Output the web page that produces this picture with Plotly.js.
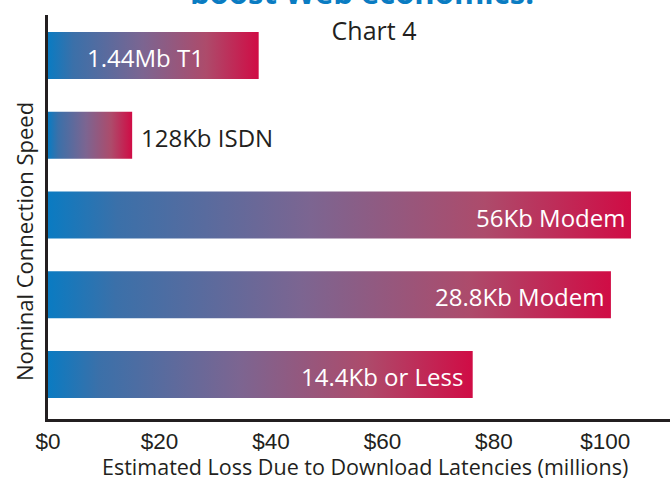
<!DOCTYPE html>
<html>
<head>
<meta charset="utf-8">
<script src="https://cdn.plot.ly/plotly-3.0.1.min.js"></script>
<style>html,body{margin:0;padding:0;background:#fff;}#chart{width:670px;height:480px;}</style>
</head>
<body>
<div id="chart"></div>
<script>
// ---- data ----
const categories = ['1.44Mb T1', '128Kb ISDN', '56Kb Modem', '28.8Kb Modem', '14.4Kb or Less'];
const losses = [37.8, 15.1, 104.6, 101.0, 76.2];           // $ millions
const tickValues = [0, 20, 40, 60, 80, 100];
const tickLabels = ['$0', '$20', '$40', '$60', '$80', '$100'];
const headline = 'boost Web economics.';
const chartTitle = 'Chart 4';
const xTitle = 'Estimated Loss Due to Download Latencies (millions)';
const yTitle = 'Nominal Connection Speed';

// ---- style ----
const ink = '#231f20';
const barHalf = 0.295;
const gradient = [[0, '#0a7bc2'], [0.12, '#3b70a9'], [0.45, '#7c6591'], [0.75, '#ad4b6b'], [1, '#d00c45']];
const labelPlacement = ['middle', 'outside', 'end', 'end', 'end'];
const labelShift = [-8, 7, -4, -4, -8];

const traces = categories.map((c, i) => ({
  type: 'scatter', mode: 'lines', name: c,
  x: [0, losses[i], losses[i], 0, 0],
  y: [i - barHalf, i - barHalf, i + barHalf, i + barHalf, i - barHalf],
  fill: 'toself',
  fillgradient: {type: 'horizontal', colorscale: gradient},
  line: {width: 0, color: 'rgba(0,0,0,0)'},
  hoverinfo: 'skip', showlegend: false
}));

const annotations = categories.map((c, i) => {
  const p = labelPlacement[i];
  const a = {xref: 'x', yref: 'y', y: i, yshift: -2, text: c, showarrow: false, yanchor: 'middle',
    xshift: labelShift[i],
    font: {family: 'Open Sans', size: 24, color: p === 'outside' ? ink : '#ffffff'}};
  if (p === 'middle') { a.x = losses[i] / 2; a.xanchor = 'center'; }
  else if (p === 'outside') { a.x = losses[i]; a.xanchor = 'left'; }
  else { a.x = losses[i]; a.xanchor = 'right'; }
  return a;
});
annotations.push({xref: 'paper', yref: 'paper', x: 0.505, y: 1, yanchor: 'bottom', xanchor: 'center',
  yshift: 0, text: headline, showarrow: false,
  font: {family: 'Open Sans', size: 31, weight: 'bold', color: '#0a7cc2'}});
annotations.push({xref: 'paper', yref: 'paper', x: 0, y: 0.438, xanchor: 'center', yanchor: 'middle',
  xshift: -24, textangle: -90, text: yTitle, showarrow: false,
  font: {family: 'Open Sans', size: 22, color: ink}});
annotations.push({xref: 'paper', yref: 'paper', x: 0.5097, y: -0.124, yshift: 3, xanchor: 'center', yanchor: 'middle',
  text: xTitle, showarrow: false, borderpad: 0,
  font: {family: 'Open Sans', size: 21.5, color: ink}});

const layout = {
  width: 670, height: 480,
  margin: {l: 48, r: 0, t: 15, b: 61},
  paper_bgcolor: '#ffffff', plot_bgcolor: '#ffffff',
  title: {text: chartTitle, x: 374 / 670, xanchor: 'center', y: 1 - 31 / 480, yanchor: 'middle', yref: 'container',
    font: {family: 'Open Sans', size: 25, color: ink}},
  xaxis: {range: [0, 111.6], tickvals: tickValues, ticktext: tickLabels,
    showline: true, linewidth: 3, linecolor: ink, showgrid: false, zeroline: false, ticks: '', ticklen: 0,
    tickfont: {family: 'Liberation Sans, Arial', size: 22.5, color: ink},
    fixedrange: true},
  yaxis: {range: [4.558, -0.508], showline: true, linewidth: 3, linecolor: ink,
    showgrid: false, zeroline: false, showticklabels: false, ticks: '', ticklen: 0, fixedrange: true},
  annotations: annotations,
  showlegend: false
};

Plotly.newPlot('chart', traces, layout, {displayModeBar: false, staticPlot: true});
</script>
</body>
</html>
